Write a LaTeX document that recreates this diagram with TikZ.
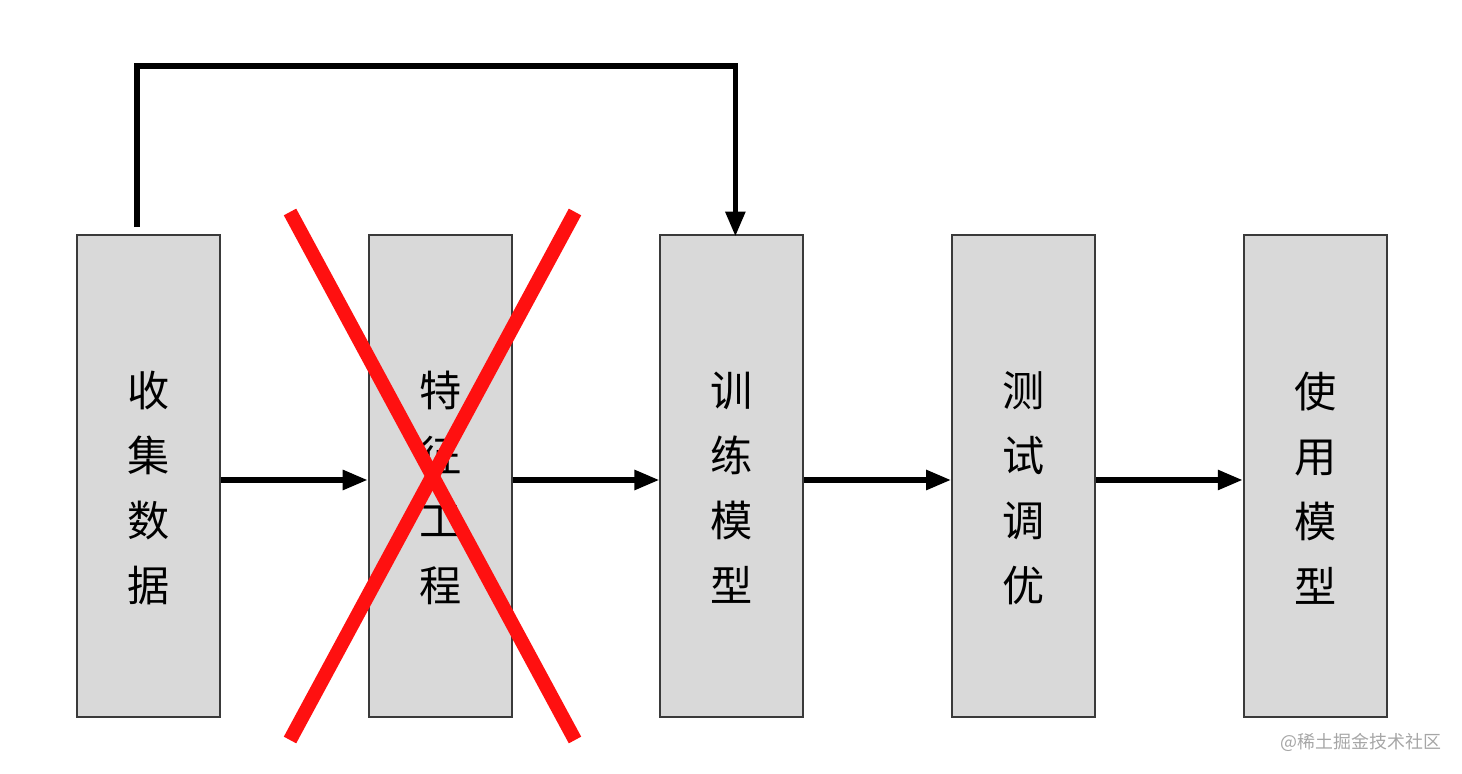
\documentclass[tikz,border=0pt]{standalone}
\usepackage{fontspec}
\newfontfamily\cjk{Noto Sans CJK SC}
\usepackage{xcolor}
\usetikzlibrary{arrows.meta,positioning,calc}
\definecolor{boxgray}{HTML}{D9D9D9}
\definecolor{edgegray}{HTML}{3A3A3A}
\definecolor{xred}{HTML}{FF1010}

\begin{document}
\begin{tikzpicture}[
    node distance=0.9cm and 2.935cm,
    b1/.style={rectangle, draw=edgegray, fill=boxgray, line width=1.1pt, minimum height=9.64cm, minimum width=2.86cm, inner sep=0pt},
    lab/.style={align=center, inner sep=0pt, yshift=-0.24cm, font=\cjk\fontsize{24}{37}\selectfont},
    arr/.style={-{Triangle[length=0.5cm,width=0.38cm]}, line width=3.2pt, draw=black},
    cross/.style={line width=8pt, draw=xred}
]
    \useasboundingbox (0,0) rectangle (29.24,15.48);

    \node [b1, label={[lab, name=l1]center:收\\集\\数\\据}] (n1) at (2.97,5.96) {};
    \node [b1, right=of n1, label={[lab, name=l2]center:特\\征\\工\\程}] (n2) {};
    \node [b1, right=of n2, label={[lab, name=l3]center:训\\练\\模\\型}] (n3) {};
    \node [b1, right=of n3, label={[lab, name=l4]center:测\\试\\调\\优}] (n4) {};
    \node [b1, right=of n4, label={[lab, name=l5]center:使\\用\\模\\型}] (n5) {};

    \draw [arr] ([yshift=-0.08cm]n1.east) -- ([yshift=-0.08cm]n2.west);
    \draw [arr] ([yshift=-0.08cm]n2.east) -- ([yshift=-0.08cm]n3.west);
    \draw [arr] ([yshift=-0.08cm]n3.east) -- ([yshift=-0.08cm]n4.west);
    \draw [arr] ([yshift=-0.08cm]n4.east) -- ([yshift=-0.08cm]n5.west);

    % feedback line over the top
    \coordinate (fbtop) at (0,14.16);
    \draw [arr, line join=miter] ([xshift=-0.23cm,yshift=0.14cm]n1.north) |- ($(fbtop -| n3.north)+(0.07,0)$) -- ([xshift=0.07cm,yshift=-0.05cm]n3.north);

    % red cross over the second step
    \coordinate (xa) at (5.8,11.24);
    \coordinate (xb) at (11.5,0.68);
    \coordinate (xc) at (11.5,11.24);
    \coordinate (xd) at (5.8,0.68);
    \draw [cross] (xa) -- (xb);
    \draw [cross] (xc) -- (xd);

    \node [text=gray!70, font=\cjk\fontsize{10.2}{12}\selectfont] (mark) at (27.22,0.64) {@稀土掘金技术社区};
\end{tikzpicture}
\end{document}
